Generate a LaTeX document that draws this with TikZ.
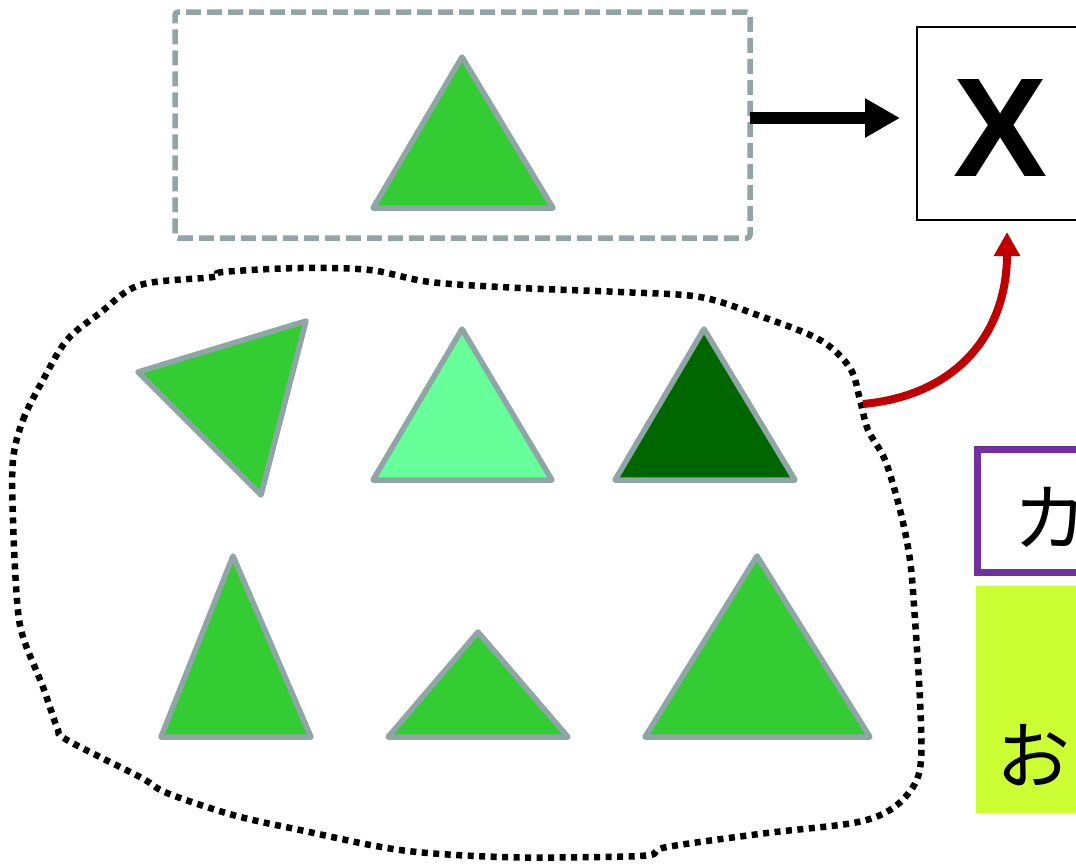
\documentclass[tikz,border=0pt]{standalone}
\usepackage{fontspec}
\newfontfamily\cjk{Noto Sans CJK JP}
\newfontfamily\xfont{Liberation Sans}
\usetikzlibrary{arrows.meta}
\definecolor{tristroke}{RGB}{143,165,166}
\definecolor{midgreen}{RGB}{51,204,51}
\definecolor{lightgreen}{RGB}{102,255,153}
\definecolor{darkgreen}{RGB}{0,102,0}
\definecolor{arrowred}{RGB}{192,0,0}
\definecolor{boxpurple}{RGB}{112,48,160}
\definecolor{boxyellow}{RGB}{204,255,51}
\begin{document}
\begin{tikzpicture}[x=1pt,y=-1pt,
  tri/.style={draw=tristroke,line width=5.5pt,line join=round},
  groupbox/.style={draw=tristroke,line width=5.5pt,dash pattern=on 15pt off 6pt,rounded corners=3pt,minimum width=575pt,minimum height=226pt,inner sep=0pt},
  cloudline/.style={draw=black,line width=6.5pt,dash pattern=on 6pt off 5.5pt},
  xbox/.style={draw=black,line width=2pt,minimum width=168pt,minimum height=193pt,inner sep=0pt},
  fatarrow/.style={line width=12pt,-{Triangle[length=35pt,width=37pt]}},
  redarrow/.style={draw=arrowred,line width=8pt,-{Triangle[length=24pt,width=25pt]}}
]
\useasboundingbox (0,0) rectangle (1076,863);
\clip (0,0) rectangle (1076,863);

% top group
\node[groupbox] (src) at (462.5,125) {};
\draw[tri,fill=midgreen] (462,57) -- (553,208) -- (373,208) -- cycle;

% X box
\node[xbox] (xb) at (1001,123.5) {};
\node[inner sep=0pt] (xlabel) at (1001,128) {\xfont\bfseries\fontsize{141}{141}\selectfont X};

\coordinate (a1) at (750,118);
\coordinate (a2) at (900,118);
\draw[fatarrow] (a1) -- (a2);

% cloud
\draw[cloudline] plot[smooth cycle,tension=0.55] coordinates {
(13,460) (23,420) (43,380) (67,340) (100,313) (140,285) (213,277) (223,272)
(300,268) (370,270) (430,282) (520,288) (620,292) (700,297) (760,316) (820,340)
(850,368) (860,400) (868,430) (885,460) (900,510) (910,560) (915,620) (920,700)
(921,760) (913,787) (890,810) (853,823) (767,833) (667,847) (650,855) (600,857)
(500,857) (400,850) (300,830) (233,815) (167,793) (140,777) (67,740) (57,727)
(43,687) (23,637) (17,600) (13,520)};

% triangles in cloud
\draw[tri,fill=midgreen] (138,372) -- (306,321) -- (261,495) -- cycle;
\draw[tri,fill=lightgreen] (462,329) -- (552,480) -- (373,480) -- cycle;
\draw[tri,fill=darkgreen] (704,329) -- (795,480) -- (615,480) -- cycle;
\draw[tri,fill=midgreen] (233,556) -- (311,737) -- (161,737) -- cycle;
\draw[tri,fill=midgreen] (478,632) -- (568,737) -- (388,737) -- cycle;
\draw[tri,fill=midgreen] (757,556) -- (870,737) -- (645,737) -- cycle;

% red arrow
\coordinate (r1) at (863,404);
\coordinate (r2) at (1007,232);
\draw[redarrow] (r1) .. controls (960,395) and (1007,330) .. (r2);

% purple box
\node[draw=boxpurple,line width=7pt,minimum width=200pt,minimum height=123pt,inner sep=0pt] (kbox) at (1077,510.5) {};
\node[anchor=west,inner sep=0pt] (ktext) at (1013,517) {\cjk\fontsize{74}{74}\selectfont カ};

% yellow box
\node[fill=boxyellow,minimum width=200pt,minimum height=227pt,inner sep=0pt] (obox) at (1076,699.5) {};
\node[anchor=west,inner sep=0pt] (otext) at (996,755) {\cjk\fontsize{74}{74}\selectfont お};
\end{tikzpicture}
\end{document}
